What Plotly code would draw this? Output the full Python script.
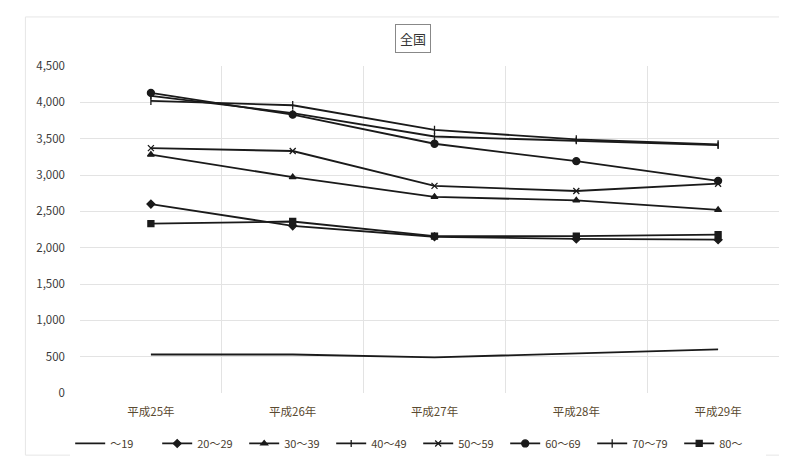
import plotly.graph_objects as go

years = ["平成25年", "平成26年", "平成27年", "平成28年", "平成29年"]
series_names = ["～19", "20～29", "30～39", "40～49", "50～59", "60～69", "70～79", "80～"]
v_u19 = [530, 530, 490, 550, 600]
v_20s = [2600, 2300, 2150, 2120, 2110]
v_30s = [3280, 2970, 2700, 2650, 2520]
v_40s = [4090, 3850, 3530, 3470, 3410]
v_50s = [3370, 3330, 2850, 2780, 2880]
v_60s = [4130, 3830, 3430, 3190, 2920]
v_70s = [4020, 3960, 3620, 3490, 3420]
v_80s = [2330, 2360, 2160, 2160, 2180]
y_ticks = [0, 500, 1000, 1500, 2000, 2500, 3000, 3500, 4000, 4500]

values = [v_u19, v_20s, v_30s, v_40s, v_50s, v_60s, v_70s, v_80s]
symbols = [None, "diamond", "triangle-up", "line-ns-open", "x-thin-open", "circle", "line-ns-open", "square"]
sizes = [0, 6, 6, 5, 6, 7, 6, 6]

fig = go.Figure()
for name, vals, sym, sz in zip(series_names, values, symbols, sizes):
    if sym is None:
        fig.add_trace(go.Scatter(x=years, y=vals, name=name, mode="lines",
                                 line=dict(color="#1a1a1a", width=1.8)))
    else:
        fig.add_trace(go.Scatter(x=years, y=vals, name=name, mode="lines+markers",
                                 line=dict(color="#1a1a1a", width=1.8),
                                 marker=dict(symbol=sym, size=sz, color="#1a1a1a",
                                             line=dict(color="#1a1a1a", width=1.3))))

fig.update_layout(
    width=787, height=456,
    margin=dict(l=72, r=6, t=58, b=65),
    paper_bgcolor="white", plot_bgcolor="white",
    font=dict(family="Noto Sans CJK JP", size=11, color="#3a3a3a"),
    showlegend=True,
    legend=dict(orientation="h", x=0.477, xanchor="center", y=-0.11, yanchor="top",
                font=dict(size=11, color="#4a4030"), itemwidth=30,
                entrywidth=42, entrywidthmode="pixels",
                tracegroupgap=0),
    annotations=[dict(text="全国", xref="paper", yref="paper", x=0.469, y=1.085,
                      xanchor="center", yanchor="middle", showarrow=False,
                      font=dict(size=13, color="#333"),
                      bordercolor="#888", borderwidth=1, borderpad=4, bgcolor="white")],
    shapes=[dict(type="rect", xref="paper", yref="paper",
                 x0=-0.077, x1=1.01, y0=-0.19, y1=1.15,
                 line=dict(color="#e6e6e6", width=1), layer="below")],
)
fig.update_xaxes(type="category", range=[-0.5, 4.5], tickson="boundaries",
                 showgrid=True, gridcolor="#e3e3e3", gridwidth=1,
                 ticks="", showline=False, zeroline=False,
                 tickfont=dict(size=11.5, color="#5a4a30"), ticklabelstandoff=10)
fig.update_yaxes(range=[0, 4500], tickvals=y_ticks, tickformat=",",
                 showgrid=True, gridcolor="#e3e3e3", gridwidth=1,
                 zeroline=False, showline=False, ticks="",
                 tickfont=dict(size=11.5, color="#3a3a3a"), ticklabelstandoff=14)

fig.write_html("out.html")
